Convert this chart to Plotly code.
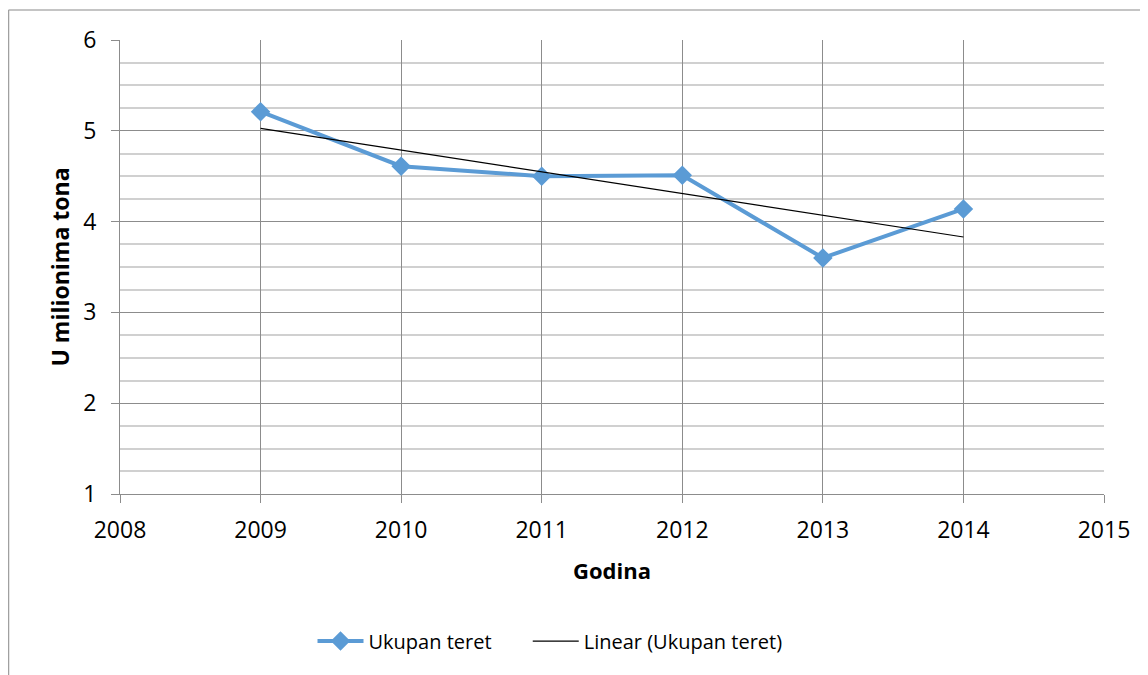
import numpy as np
import plotly.graph_objects as go

years = [2009, 2010, 2011, 2012, 2013, 2014]
ukupan_teret = [5.21, 4.61, 4.50, 4.51, 3.60, 4.14]
series_name = "Ukupan teret"
trend_name = "Linear (Ukupan teret)"

coef = np.polyfit(years, ukupan_teret, 1)
trend = np.polyval(coef, years)

FONT = "'Open Sans', Lato, sans-serif"
PAD = "\u00a0" * 6

fig = go.Figure()
fig.add_trace(go.Scatter(
    x=years, y=ukupan_teret, mode="lines+markers", name=series_name + PAD,
    line=dict(color="#5B9BD5", width=4),
    marker=dict(symbol="diamond", size=15, color="#5B9BD5"),
))
fig.add_trace(go.Scatter(
    x=years, y=trend, mode="lines", name=trend_name,
    line=dict(color="black", width=1.2),
))

fig.update_layout(
    width=1140, height=667,
    margin=dict(l=112, r=44, t=32, b=181),
    paper_bgcolor="white", plot_bgcolor="white",
    font=dict(family=FONT, size=22, color="black"),
    showlegend=True,
    legend=dict(orientation="h", x=0.437, y=-0.324, xanchor="center", yanchor="middle",
                font=dict(size=20), itemwidth=46, tracegroupgap=0),
    xaxis=dict(
        range=[2008, 2015], dtick=1, tick0=2008,
        showgrid=True, gridcolor="#8c8c8c", gridwidth=1,
        showline=True, linecolor="#8c8c8c", linewidth=1,
        ticks="outside", ticklen=8, tickcolor="#8c8c8c",
        ticklabelstandoff=7,
        zeroline=False,
        title=dict(text="<b>Godina</b>", font=dict(size=22), standoff=20),
        tickfont=dict(size=23),
    ),
    yaxis=dict(
        range=[1, 6], dtick=1, tick0=1,
        showgrid=True, gridcolor="#8c8c8c", gridwidth=1,
        showline=True, linecolor="#8c8c8c", linewidth=1,
        ticks="outside", ticklen=8, tickcolor="#8c8c8c",
        ticklabelstandoff=10,
        zeroline=False,
        minor=dict(dtick=0.25, showgrid=True, gridcolor="#d0d0d0", gridwidth=1.5),
        title=dict(text="<b>U milionima tona</b>", font=dict(size=23), standoff=7),
        tickfont=dict(size=23),
    ),
)

# outer chart border (top and left edges visible)
fig.add_shape(type="line", xref="paper", yref="paper", x0=-0.1133, x1=1.2, y0=1.066, y1=1.066,
              line=dict(color="#b0b0b0", width=1.5))
fig.add_shape(type="line", xref="paper", yref="paper", x0=-0.1133, x1=-0.1133, y0=1.066, y1=-0.5,
              line=dict(color="#a0a0a0", width=1.5))

fig.write_html("out.html")
